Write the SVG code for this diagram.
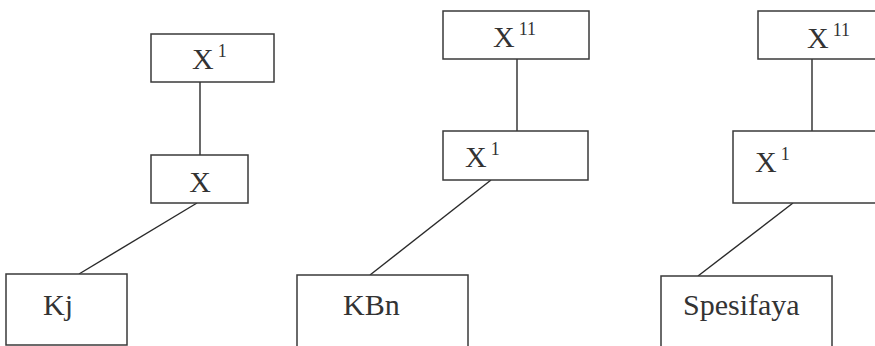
<svg xmlns="http://www.w3.org/2000/svg" width="875" height="346" viewBox="0 0 875 346">
<style>
.box{fill:#fff;stroke:#3a3a3a;stroke-width:1.5}
.lbl{font-family:"Liberation Serif","Times New Roman",serif;font-size:30px;fill:#333}
.sup{font-size:18px}
.edge{stroke:#2a2a2a;stroke-width:1.4;fill:none}
</style>
<rect width="875" height="346" fill="#fff"/>
<g id="connectors">
<line class="edge" x1="200" y1="82" x2="200" y2="155"/>
<line class="edge" x1="197" y1="203" x2="79" y2="274"/>
<line class="edge" x1="517" y1="59" x2="517" y2="131"/>
<line class="edge" x1="491" y1="180" x2="370" y2="275"/>
<line class="edge" x1="812" y1="59" x2="812" y2="131"/>
<line class="edge" x1="793" y1="203" x2="698" y2="276"/>
</g>
<g id="n1a"><rect class="box" x="151" y="34" width="123" height="48"/><text class="lbl" x="192" y="69">X<tspan class="sup" dx="4" dy="-12">1</tspan></text></g>
<g id="n1b"><rect class="box" x="151" y="155" width="97" height="48"/><text class="lbl" x="200" y="192" text-anchor="middle">X</text></g>
<g id="n1c"><rect class="box" x="6" y="274" width="121" height="71"/><text class="lbl" x="43" y="315">Kj</text></g>
<g id="n2a"><rect class="box" x="443" y="11" width="146" height="48"/><text class="lbl" x="493" y="47">X<tspan class="sup" dx="4" dy="-12">11</tspan></text></g>
<g id="n2b"><rect class="box" x="443" y="131" width="145" height="49"/><text class="lbl" x="465" y="167">X<tspan class="sup" dx="4" dy="-12">1</tspan></text></g>
<g id="n2c"><rect class="box" x="297" y="275" width="171" height="74"/><text class="lbl" x="343" y="315">KBn</text></g>
<g id="n3a"><rect class="box" x="758" y="11" width="130" height="48"/><text class="lbl" x="807" y="48">X<tspan class="sup" dx="4" dy="-12">11</tspan></text></g>
<g id="n3b"><rect class="box" x="733" y="131" width="155" height="72"/><text class="lbl" x="755" y="172">X<tspan class="sup" dx="4" dy="-12">1</tspan></text></g>
<g id="n3c"><rect class="box" x="661" y="276" width="171" height="73"/><text class="lbl" x="683" y="315">Spesifaya</text></g>
</svg>
